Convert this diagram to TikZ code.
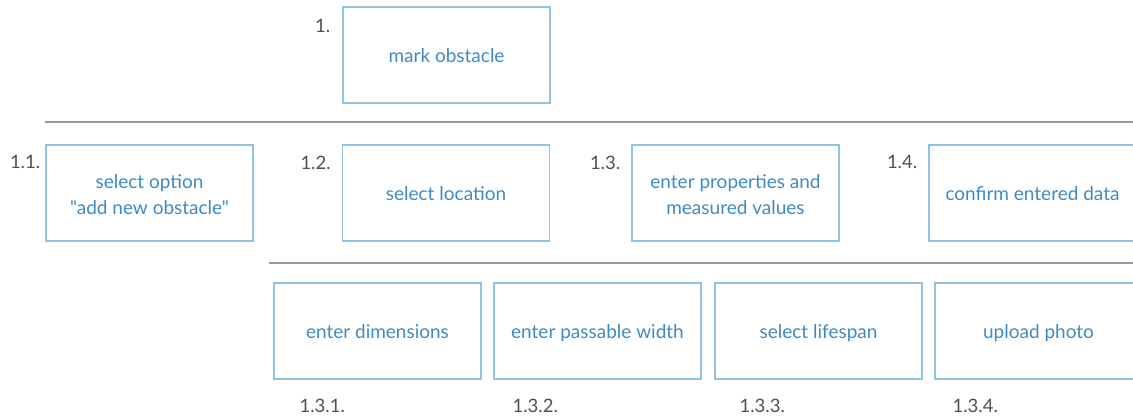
\documentclass[tikz,border=0pt]{standalone}
\usepackage{fontspec}
\setmainfont{Lato}[Ligatures=TeXOff]
\usetikzlibrary{calc}
\definecolor{boxblue}{HTML}{8FC3E8}
\definecolor{textblue}{HTML}{3F8AC4}
\definecolor{treegray}{HTML}{999999}
\definecolor{numgray}{HTML}{505050}
\newcommand{\boxstrut}{\rule[-6pt]{0pt}{27pt}}
\newcommand{\twolines}[2]{\raisebox{-3.5pt}[\height][\depth]{%
    \begin{tabular}{@{}c@{}}#1\\#2\end{tabular}}}
\tikzset{
    stepbox/.style={draw=boxblue, line width=1.2pt, minimum width=207pt,
        minimum height=96pt, inner sep=0pt, align=center, text=textblue,
        font=\fontsize{19}{26}\selectfont, execute at begin node=\boxstrut},
    numlabel/.style={text=numgray, inner sep=0pt, font=\fontsize{18.5}{20}\selectfont},
    treeline/.style={draw=treegray, line width=2.5pt}
}

\begin{document}
\begin{tikzpicture}[x=1pt, y=-1pt]
    \useasboundingbox (0, 0) rectangle (1133, 417);
    \clip (0, 0) rectangle (1133, 417);
    % level 1
    \node[stepbox] (mark) at (446.5, 55) {mark obstacle};
    \node[numlabel, anchor=east] (nmark) at ($(mark.north west)+(-12, 20)$) {1.};
    \coordinate (rowAl) at (45, 122);
    \coordinate (rowAr) at (1133, 122);
    % level 2
    \node[stepbox] (option) at (149.5, 193) {\twolines{select option}{"add new obstacle"}};
    \node[stepbox] (location) at (446, 193) {select location};
    \node[stepbox] (props) at (735.5, 193) {\twolines{enter properties and}{measured values}};
    \node[stepbox] (confirm) at (1032.5, 193) {confirm entered data};
    \node[numlabel, anchor=east] (noption) at ($(option.north west)+(-5, 18)$) {1.1.};
    \node[numlabel, anchor=east] (nlocation) at ($(location.north west)+(-11, 18)$) {1.2.};
    \node[numlabel, anchor=east] (nprops) at ($(props.north west)+(-11, 18)$) {1.3.};
    \node[numlabel, anchor=east] (nconfirm) at ($(confirm.north west)+(-11, 18)$) {1.4.};
    \coordinate (rowBl) at (269, 263);
    \coordinate (rowBr) at (1133, 263);
    % level 3
    \node[stepbox] (dims) at (377.5, 331) {enter dimensions};
    \node[stepbox] (width) at (597.5, 331) {enter passable width};
    \node[stepbox] (life) at (818.5, 331) {select lifespan};
    \node[stepbox] (photo) at (1038.5, 331) {upload photo};
    \node[numlabel, anchor=west] (ndims) at ($(dims.south west)+(26, 26)$) {1.3.1.};
    \node[numlabel, anchor=west] (nwidth) at ($(width.south west)+(19, 26)$) {1.3.2.};
    \node[numlabel, anchor=west] (nlife) at ($(life.south west)+(25, 26)$) {1.3.3.};
    \node[numlabel, anchor=west] (nphoto) at ($(photo.south west)+(18, 26)$) {1.3.4.};
    % tree lines
    \draw[treeline] (rowAl) -- (rowAr);
    \draw[treeline] ($(mark.south)+(-8, 0)$) -- ($(mark.south)+(-8, 0)$ |- rowAl);
    \draw[treeline] (rowBl) -- (rowBr);
    \draw[treeline] ($(props.south)+(-2, 0)$) -- ($(props.south)+(-2, 0)$ |- rowBl);
\end{tikzpicture}
\end{document}
